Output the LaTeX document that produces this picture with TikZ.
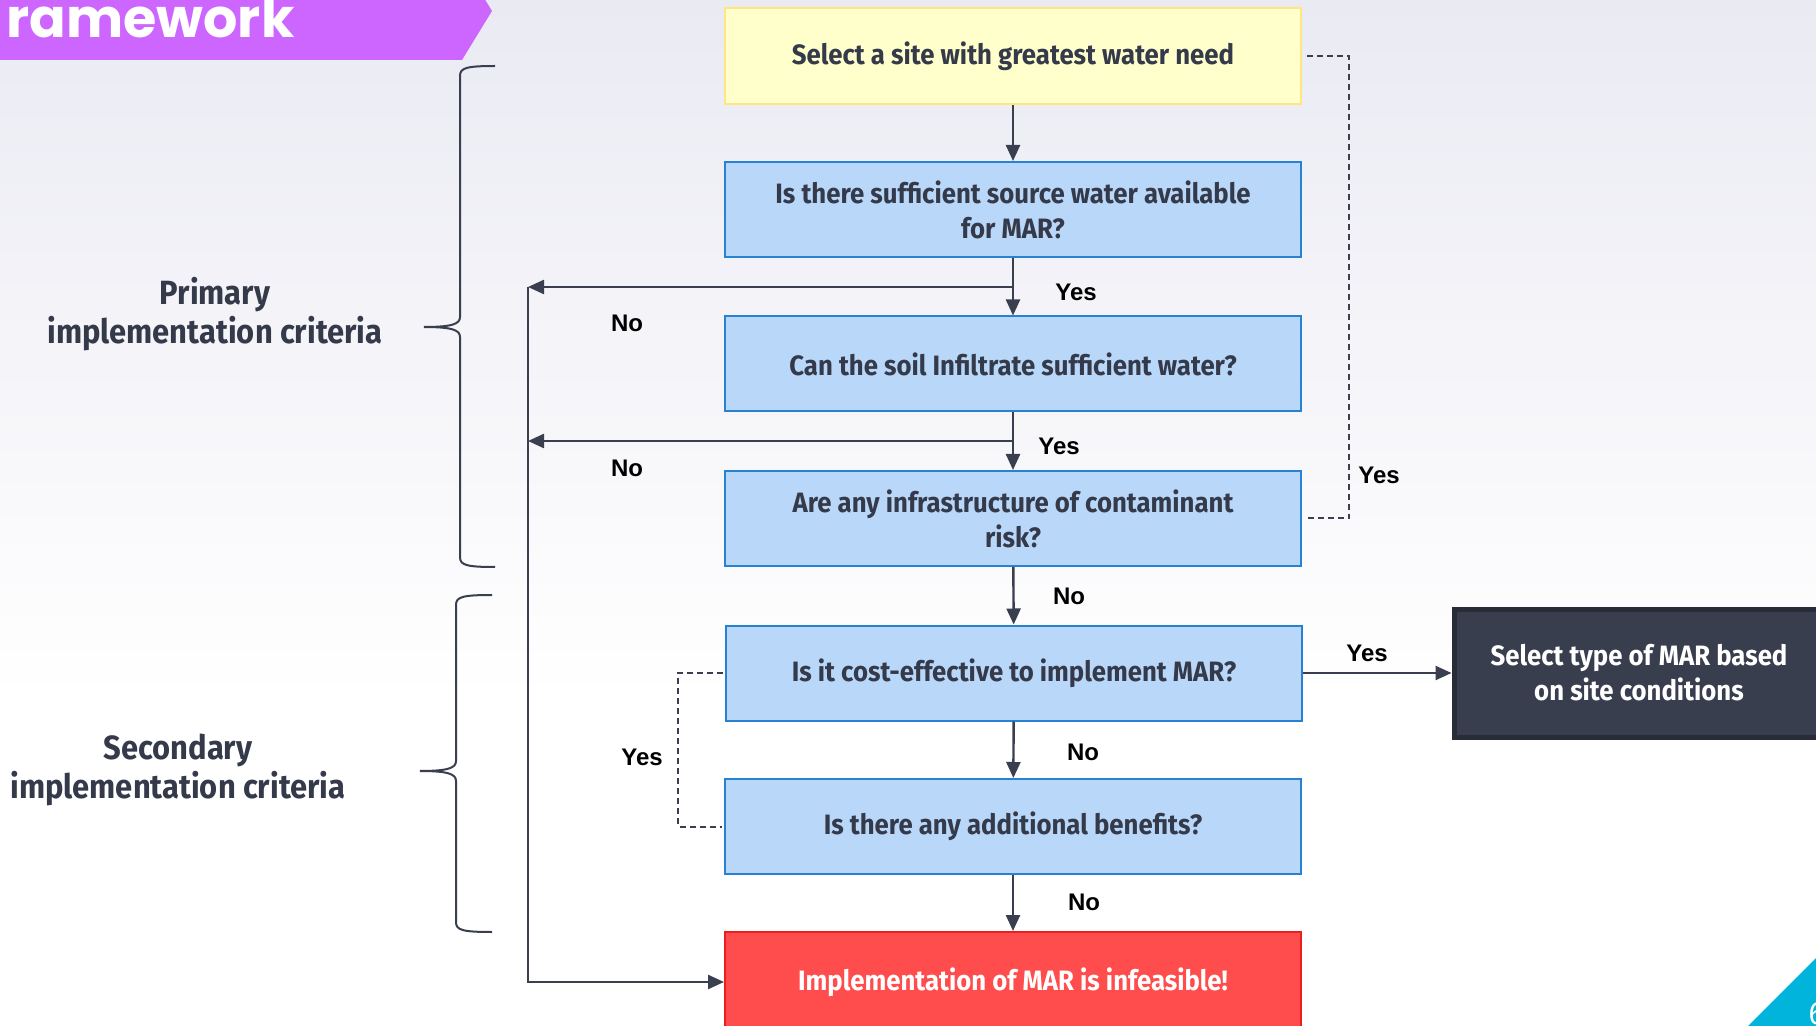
\documentclass[tikz,border=0pt]{standalone}
\usepackage{fontspec}
\setmainfont{Fira Sans}[FakeStretch=0.92]
\newfontfamily\ynfamily{Liberation Sans}
\newfontfamily\ttlfamily{Poppins}
\usetikzlibrary{arrows.meta}
\definecolor{bgtop}{RGB}{234,234,243}
\definecolor{yelfill}{RGB}{255,255,204}
\definecolor{yelline}{RGB}{255,230,128}
\definecolor{bluefill}{RGB}{185,215,248}
\definecolor{blueline}{RGB}{40,130,210}
\definecolor{redfill}{RGB}{255,76,76}
\definecolor{redline}{RGB}{235,30,30}
\definecolor{darkfill}{RGB}{57,62,79}
\definecolor{darkline}{RGB}{40,44,55}
\definecolor{ink}{RGB}{52,58,74}
\definecolor{arrowc}{RGB}{58,63,80}
\definecolor{purp}{RGB}{204,102,255}
\definecolor{cornercyan}{RGB}{0,180,220}
\newcommand\boxfnt{\bfseries\fontsize{14}{17.5}\selectfont}
\newcommand\ynfnt{\ynfamily\bfseries\fontsize{12}{14}\selectfont}
\newcommand\critfnt{\bfseries\fontsize{16.8}{19.5}\selectfont}

\begin{document}
\begin{tikzpicture}[x=0.5pt,y=-0.5pt,semithick,
  qbox/.style={draw=blueline,fill=bluefill,line width=1pt,minimum width=288pt,
    minimum height=47.5pt,inner sep=0pt,align=center,text=ink,font=\boxfnt},
  flow/.style={draw=arrowc,line width=1.2pt,-{Triangle[length=8pt,width=7pt]}},
  dashln/.style={draw=arrowc,line width=1pt,dash pattern=on 3pt off 2pt},
  yn/.style={font=\ynfnt,text=black,inner sep=0pt},
  brc/.style={draw=arrowc,line width=1pt}]
\useasboundingbox (0,0) rectangle (1816,1026);
\clip (0,0) rectangle (1816,1026);
\shade[top color=bgtop,bottom color=white] (0,0) rectangle (1816,700);
\fill[white] (0,699) rectangle (1816,1026);
\fill[purp] (0,-38)--(462,-38)--(492,11)--(462,60)--(0,60)--cycle;
\node[anchor=base west,inner sep=0pt,text=white,font=\ttlfamily\bfseries\fontsize{27}{27}\selectfont] (ttl) at (6,38) {ramework};
\fill[cornercyan] (1748,1026)--(1816,958)--(1816,1026)--cycle;
\node[anchor=north west,inner sep=0pt,text=white,font=\fontsize{16}{16}\selectfont] (pg) at (1808,1002) {6};

\node[qbox,draw=yelline,fill=yelfill,minimum height=48pt] (sel) at (1013,56) {Select a site with greatest water need};
\node[qbox] (src) at (1013,209.5) {Is there sufficient source water available\\for MAR?};
\node[qbox] (soil) at (1013,364) {Can the soil Infiltrate sufficient water?};
\node[qbox] (infra) at (1013,518.5) {Are any infrastructure of contaminant\\risk?};
\node[qbox] (cost) at (1014,673) {Is it cost-effective to implement MAR?};
\node[qbox] (ben) at (1013,826.5) {Is there any additional benefits?};
\node[qbox,draw=redline,fill=redfill,text=white,minimum height=50pt] (inf) at (1013,982) {Implementation of MAR is infeasible!};
\node[qbox,draw=darkline,fill=darkfill,text=white,line width=2.5pt,minimum width=185pt,minimum height=64pt] (mar) at (1639,673) {Select type of MAR based\\on site conditions};

\coordinate (n1) at (528,287);
\coordinate (n2) at (528,441);
\coordinate (dr) at (1349,56);
\coordinate (dl) at (678,673);
\draw[flow] (sel)--(src);
\draw[flow] (src)--(soil);
\draw[flow] (soil)--(infra);
\draw[flow] (infra)--(cost);
\draw[flow] (cost)--(ben);
\draw[flow] (ben)--(inf);
\draw[flow] (cost)--(mar);
\draw[flow] (src.south|-n1)--(n1);
\draw[flow] (soil.south|-n2)--(n2);
\draw[flow] (n1)--(n1|-inf.west)--(inf.west);
\draw[dashln] ([xshift=2.5pt]sel.east)--(dr)|-([xshift=1pt]infra.east);
\draw[dashln] ([xshift=-1pt]cost.west)--(dl)|-([xshift=-1pt]ben.west);

\node[yn] (y1) at (1076,292) {Yes};
\node[yn] (y2) at (1059,446) {Yes};
\node[yn] (y3) at (1379,475) {Yes};
\node[yn] (y4) at (1367,653) {Yes};
\node[yn] (y5) at (642,757) {Yes};
\node[yn] (no1) at (627,323) {No};
\node[yn] (no2) at (627,468) {No};
\node[yn] (no3) at (1069,596) {No};
\node[yn] (no4) at (1083,752) {No};
\node[yn] (no5) at (1084,902) {No};

\draw[brc] (495,66) .. controls (466,66) and (460,68) .. (460,76)--(460,317) .. controls (460,324) and (452,327) .. (424,327) .. controls (452,327) and (460,330) .. (460,337)--(460,557) .. controls (460,565) and (466,567) .. (495,567);
\draw[brc] (492,595) .. controls (462,595) and (456,597) .. (456,605)--(456,761) .. controls (456,768) and (448,771) .. (420,771) .. controls (448,771) and (456,774) .. (456,781)--(456,922) .. controls (456,930) and (462,932) .. (492,932);
\node[font=\critfnt,text=ink,align=center] (prim) at (215,314) {Primary\\implementation criteria};
\node[font=\critfnt,text=ink,align=center] (sec) at (178,770) {Secondary\\implementation criteria};
\end{tikzpicture}
\end{document}
